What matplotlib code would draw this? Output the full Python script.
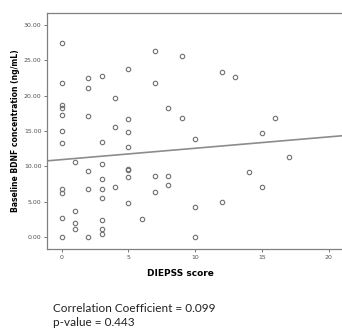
import numpy as np
import matplotlib
matplotlib.use('Agg')
import matplotlib.pyplot as plt

# DIEPSS score and baseline BDNF (ng/mL)
diepss = [0, 0, 0, 0, 0, 0, 0, 0, 0, 0, 0,
          1, 1, 1, 1,
          2, 2, 2, 2, 2, 2,
          3, 3, 3, 3, 3, 3, 3, 3, 3,
          4, 4, 4,
          5, 5, 5, 5, 5, 5, 5, 5,
          6,
          7, 7, 7, 7,
          8, 8, 8,
          9, 9,
          10, 10, 10,
          12, 12,
          13, 14, 15, 15, 16, 17]
bdnf = [27.4, 21.8, 18.7, 18.3, 17.2, 15.0, 13.3, 6.9, 6.2, 2.8, 0.0,
        10.7, 3.7, 2.1, 1.2,
        22.5, 21.0, 17.1, 9.4, 6.8, 0.0,
        22.7, 13.5, 10.4, 8.3, 6.8, 5.6, 2.4, 1.2, 0.5,
        19.6, 15.5, 7.1,
        23.7, 16.7, 14.8, 12.8, 9.7, 9.5, 8.5, 4.8,
        2.6,
        26.2, 21.7, 8.7, 6.4,
        18.2, 8.7, 7.4,
        25.5, 16.9,
        13.9, 4.3, 0.0,
        23.3, 5.0,
        22.6, 9.2, 14.7, 7.1, 16.9, 11.3]

# regression line as shown (intercept, slope)
fit_intercept = 10.97
fit_slope = 0.16

r_value = 0.099
p_value = 0.443

fig = plt.figure(figsize=(3.42, 3.30), dpi=100)
ax = fig.add_axes([47 / 342, 1 - 249 / 330, 1 - 47 / 342, (249 - 13) / 330])

ax.plot(diepss, bdnf, linestyle='none', marker='o', markersize=3.2,
        markerfacecolor='none', markeredgecolor='#707070', markeredgewidth=0.8)

x_line = np.array([-1.1, 21.0])
ax.plot(x_line, fit_intercept + fit_slope * x_line, color='#8c8c8c', linewidth=1.2)

ax.set_xlim(-1.1, 21.0)
ax.set_ylim(-1.62, 31.62)
ax.set_xticks([0, 5, 10, 15, 20])
ax.set_yticks([0, 5, 10, 15, 20, 25, 30])
ax.set_yticklabels([f'{v:.2f}' for v in [0, 5, 10, 15, 20, 25, 30]])
ax.tick_params(axis='both', labelsize=4.5, length=2.5, width=0.6,
               color='#606060', labelcolor='#505050', pad=1.5)

for side in ['left', 'top', 'bottom']:
    ax.spines[side].set_color('#808080')
    ax.spines[side].set_linewidth(0.9)
ax.spines['right'].set_visible(False)

ax.set_ylabel('Baseline BDNF concentration (ng/mL)', fontsize=5.5, fontweight='bold', labelpad=3)
ax.set_xlabel('DIEPSS score', fontsize=6.5, fontweight='bold')
ax.xaxis.set_label_coords((180 - 47) / (342 - 47), -0.085)

fig.text(53 / 342, 1 - 309 / 330, f'Correlation Coefficient = {r_value:.3f}',
         fontsize=8.5, family=['Lato', 'DejaVu Sans'], color='#222222', va='center')
fig.text(53 / 342, 1 - 323 / 330, f'p-value = {p_value:.3f}',
         fontsize=8.5, family=['Lato', 'DejaVu Sans'], color='#222222', va='center')

plt.savefig('out.png', dpi=100)
